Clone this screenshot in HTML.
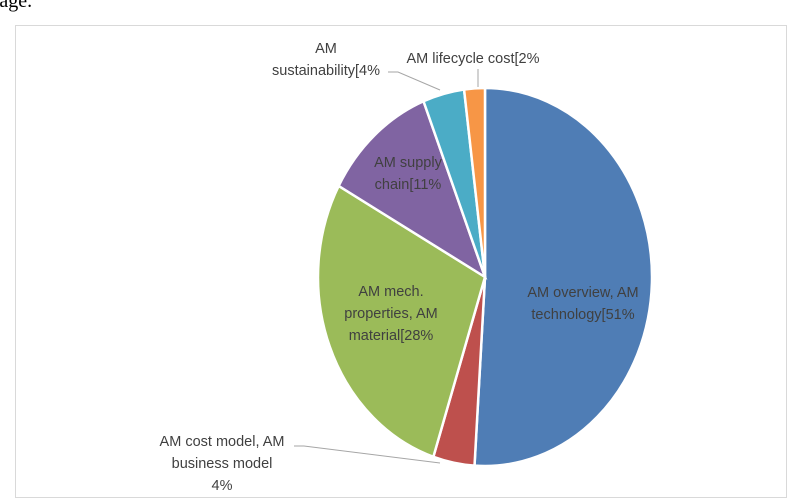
<!DOCTYPE html>
<html><head><meta charset="utf-8"><style>
body{margin:0;width:800px;height:500px;background:#fff;overflow:hidden;position:relative;font-family:"Liberation Sans",sans-serif}
#cap{position:absolute;left:-14px;top:-10px;font:20px "Liberation Serif",serif;color:#000}
</style></head><body>
<div id="cap">stage.</div>
<svg id="chart" width="800" height="500" style="position:absolute;left:0;top:0">
<rect x="15.5" y="25.5" width="771" height="472" fill="none" stroke="#d9d9d9"/>
<g id="slices"></g><g id="labels" font-size="14.5" fill="#404040" style="font-stretch:condensed"></g>
</svg>
<script>
const categories=["AM overview, AM technology","AM cost model, AM business model","AM mech. properties, AM material","AM supply chain","AM sustainability","AM lifecycle cost"];
const values=[51,4,28,11,4,2];
const colors=["#4f7db5","#be504d","#9bbb59","#8064a2","#4bacc6","#f79646"];
const cx=485,cy=277,rx=167,ry=189;
const ns="http://www.w3.org/2000/svg";
const total=values.reduce((a,b)=>a+b,0);
function pt(frac,k){const a=frac*2*Math.PI;return [cx+rx*k*Math.sin(a),cy-ry*k*Math.cos(a)];}
let acc=0;const g=document.getElementById('slices');
values.forEach((v,i)=>{
 const s=acc/total,e=(acc+v)/total;acc+=v;
 const p0=pt(s,1),p1=pt(e,1);const large=(e-s)>0.5?1:0;
 const p=document.createElementNS(ns,'path');
 p.setAttribute('d',`M${cx},${cy}L${p0[0]},${p0[1]}A${rx},${ry} 0 ${large} 1 ${p1[0]},${p1[1]}Z`);
 p.setAttribute('fill',colors[i]);p.setAttribute('stroke','#fff');p.setAttribute('stroke-width','2.5');
 
 
 g.appendChild(p);
});
const L=document.getElementById('labels');
function txt(lines,x,y,anchor,name){
 const t=document.createElementNS(ns,'text');t.setAttribute('text-anchor',anchor||'middle');
 
 
 lines.forEach((l,j)=>{const s=document.createElementNS(ns,'tspan');s.setAttribute('x',x);s.setAttribute('y',y+j*22);s.textContent=l;t.appendChild(s);});
 L.appendChild(t);
}
function line(pts,name){const p=document.createElementNS(ns,'polyline');p.setAttribute('points',pts);p.setAttribute('fill','none');p.setAttribute('stroke','#a6a6a6');
 
 
 L.appendChild(p);}
txt(["AM overview, AM","technology["+values[0]+"%"],583,297,'middle','label-overview');
txt(["AM mech.","properties, AM","material["+values[2]+"%"],391,296,'middle','label-mech');
txt(["AM supply","chain["+values[3]+"%"],408,167,'middle','label-supply');
txt(["AM","sustainability["+values[4]+"%"],326,53,'middle','label-sustainability');
txt(["AM lifecycle cost["+values[5]+"%"],473,63,'middle','label-lifecycle');
txt(["AM cost model, AM","business model",values[1]+"%"],222,446,'middle','label-cost');
line("388,72 398,72 440,90",'leader-sustainability');
line("478,69 478,87",'leader-lifecycle');
line("294,446 304,446 440,463",'leader-cost');
</script>
</body></html>
